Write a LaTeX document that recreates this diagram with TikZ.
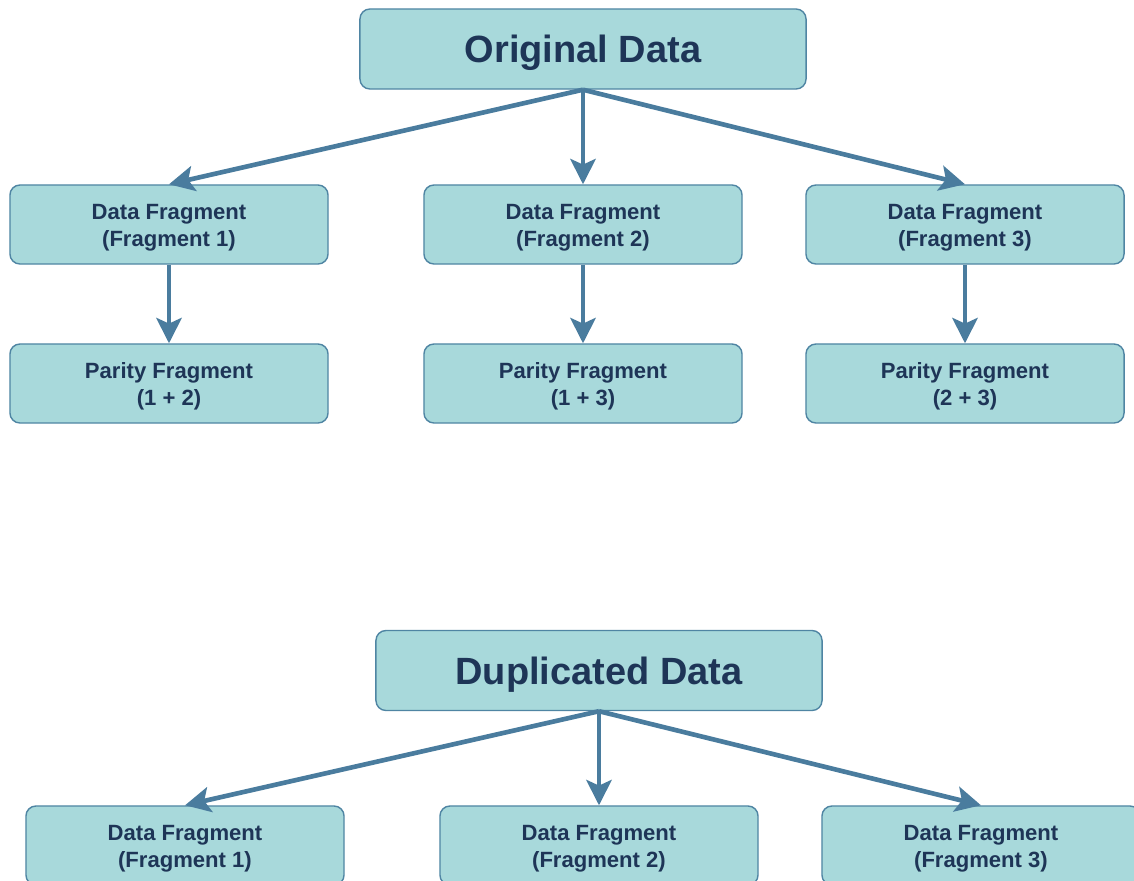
\documentclass[tikz,border=0pt]{standalone}
\usepackage{fontspec}
\setmainfont{Liberation Sans}
\usetikzlibrary{arrows.meta}

\definecolor{boxfill}{HTML}{A8D9DB}
\definecolor{boxline}{HTML}{4F85A3}
\definecolor{arrowcol}{HTML}{4A7C9E}
\definecolor{textcol}{HTML}{1E3557}

\tikzset{
  frag/.style={draw=boxline, fill=boxfill, rounded corners=0.25cm, line width=1pt,
    minimum width=7.95cm, minimum height=1.975cm, align=center, text=textcol,
    font=\bfseries\fontsize{15.7}{19}\selectfont, text height=34.5pt, text depth=3.3pt},
  head/.style={frag, minimum width=11.15cm, minimum height=2cm,
    font=\bfseries\fontsize{27}{32}\selectfont, text height=19.3pt, text depth=0pt},
  arr/.style={draw=arrowcol, line width=3.3pt,
    -{Stealth[length=18pt,width=18pt,inset=4pt]}}
}

\begin{document}
\begin{tikzpicture}[x=0.025cm,y=-0.025cm]
\clip (0,0) rectangle (1134,881);

% original data and its fragments
\node[head] (orig) at (583,49) {Original Data};
\node[frag] (d1) at (169,224.5) {Data Fragment\\(Fragment 1)};
\node[frag] (d2) at (583,224.5) {Data Fragment\\(Fragment 2)};
\node[frag] (d3) at (965,224.5) {Data Fragment\\(Fragment 3)};
\node[frag] (p1) at (169,383.5) {Parity Fragment\\(1 + 2)};
\node[frag] (p2) at (583,383.5) {Parity Fragment\\(1 + 3)};
\node[frag] (p3) at (965,383.5) {Parity Fragment\\(2 + 3)};

\draw[arr] (orig.south) -- (d1.north);
\draw[arr] (orig.south) -- (d2.north);
\draw[arr] (orig.south) -- (d3.north);
\draw[arr] (d1) -- (p1);
\draw[arr] (d2) -- (p2);
\draw[arr] (d3) -- (p3);

% duplicated data
\node[head] (dup) at (599,670.5) {Duplicated Data};
\node[frag] (c1) at (185,845.5) {Data Fragment\\(Fragment 1)};
\node[frag] (c2) at (599,845.5) {Data Fragment\\(Fragment 2)};
\node[frag] (c3) at (981,845.5) {Data Fragment\\(Fragment 3)};

\draw[arr] (dup.south) -- (c1.north);
\draw[arr] (dup.south) -- (c2.north);
\draw[arr] (dup.south) -- (c3.north);
\end{tikzpicture}
\end{document}
